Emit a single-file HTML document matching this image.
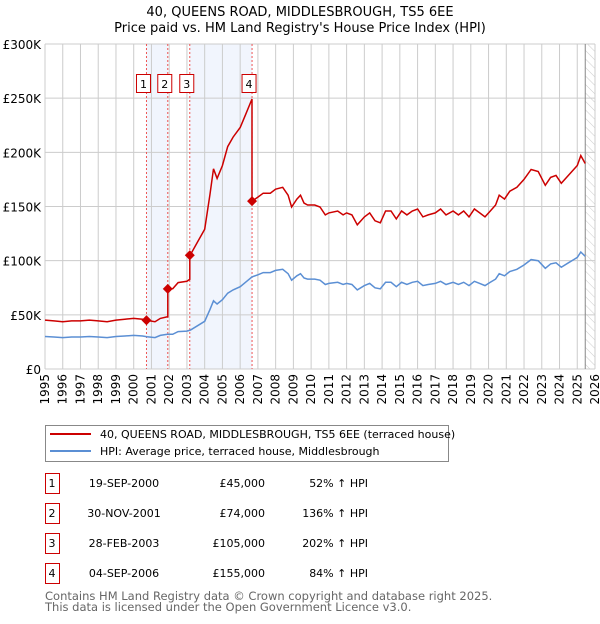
<!DOCTYPE html>
<html><head><meta charset="utf-8"><style>
body{margin:0;background:#fff;font-family:"DejaVu Sans","Liberation Sans",sans-serif;}
svg text{font-family:"DejaVu Sans","Liberation Sans",sans-serif;}
</style></head><body>
<svg id="chart" width="600" height="620" viewBox="0 0 600 620" xmlns="http://www.w3.org/2000/svg">
<defs><pattern id="hatch" width="6" height="6" patternUnits="userSpaceOnUse" patternTransform="rotate(-45)"><line x1="0" y1="0" x2="0" y2="6" stroke="#ccc" stroke-width="1"/></pattern></defs>
<text x="300" y="16" text-anchor="middle" font-size="13">40, QUEENS ROAD, MIDDLESBROUGH, TS5 6EE</text>
<text x="300" y="32" text-anchor="middle" font-size="13">Price paid vs. HM Land Registry's House Price Index (HPI)</text>
<g id="plot"></g>
<g id="legend">
<rect x="45.5" y="425.5" width="403" height="36" fill="#fff" stroke="#888"/>
<line x1="50" y1="434" x2="91" y2="434" stroke="#cc0000" stroke-width="2"/>
<text x="100" y="438" font-size="11">40, QUEENS ROAD, MIDDLESBROUGH, TS5 6EE (terraced house)</text>
<line x1="50" y1="451" x2="91" y2="451" stroke="#5b8fd4" stroke-width="2"/>
<text x="100" y="455" font-size="11">HPI: Average price, terraced house, Middlesbrough</text>
</g>
<g id="table"></g>
<text x="45" y="600" font-size="11.5" fill="#666">Contains HM Land Registry data © Crown copyright and database right 2025.</text>
<text x="45" y="611" font-size="11.5" fill="#666">This data is licensed under the Open Government Licence v3.0.</text>
</svg>
<script>
const hpiYears=[1995,1995.5,1996,1996.5,1997,1997.5,1998,1998.5,1999,1999.5,2000,2000.5,2000.75,2001.2,2001.5,2001.9,2002.2,2002.5,2003,2003.2,2003.6,2004,2004.3,2004.5,2004.7,2005,2005.3,2005.6,2006,2006.3,2006.67,2007,2007.3,2007.7,2008,2008.4,2008.7,2008.9,2009.2,2009.4,2009.6,2009.8,2010.2,2010.5,2010.8,2011,2011.5,2011.8,2012,2012.3,2012.6,2013,2013.3,2013.6,2013.9,2014.2,2014.5,2014.8,2015.1,2015.4,2015.7,2016,2016.3,2016.6,2017,2017.3,2017.6,2018,2018.3,2018.6,2018.9,2019.2,2019.5,2019.8,2020.1,2020.4,2020.6,2020.9,2021.2,2021.6,2022,2022.4,2022.8,2023.2,2023.5,2023.8,2024.1,2024.5,2024.8,2025.0,2025.2,2025.45];
const hpiValues=[30,29.5,29,29.5,29.5,30,29.5,29,30,30.5,31,30.5,29.8,29,31,32,32,34.5,35,36,40,44,55,63,60,64,70,73,76,80,85,87,89,89,91,92,88,82,86,88,84,83,83,82,78,79,80,78,79,78,73,77,79,75,74,80,80,76,80,78,80,81,77,78,79,81,78,80,78,80,77,81,79,77,80,83,88,86,90,92,96,101,100,93,97,98,94,98,101,103,108,104];
const saleLabels=["1","2","3","4"];
const saleDates=[2000.72,2001.92,2003.16,2006.67];
const salePrices=[45000,74000,105000,155000];
const saleDateText=["19-SEP-2000","30-NOV-2001","28-FEB-2003","04-SEP-2006"];
const salePriceText=["£45,000","£74,000","£105,000","£155,000"];
const salePctText=["52% ↑ HPI","136% ↑ HPI","202% ↑ HPI","84% ↑ HPI"];
const yTicks=[0,50000,100000,150000,200000,250000,300000];
const yTickLabels=["£0","£50K","£100K","£150K","£200K","£250K","£300K"];
const xTicks=[1995,1996,1997,1998,1999,2000,2001,2002,2003,2004,2005,2006,2007,2008,2009,2010,2011,2012,2013,2014,2015,2016,2017,2018,2019,2020,2021,2022,2023,2024,2025,2026];

const NS="http://www.w3.org/2000/svg";
const X0=45,X1=595,Y0=369,Y1=44;
const xs=t=>X0+(t-1995)/(2026-1995)*(X1-X0);
const ys=v=>Y0-v/300000*(Y0-Y1);
function mk(tag,attrs,parent){const e=document.createElementNS(NS,tag);for(const k in attrs)e.setAttribute(k,attrs[k]);parent.appendChild(e);return e;}
const plot=document.getElementById('plot');
function hpiAt(t){for(let i=1;i<hpiYears.length;i++){if(t<=hpiYears[i]){const f=(t-hpiYears[i-1])/(hpiYears[i]-hpiYears[i-1]);return hpiValues[i-1]+f*(hpiValues[i]-hpiValues[i-1]);}}return hpiValues[hpiValues.length-1];}

for(const [a,b] of [[0,1],[2,3]]){
const r=mk('rect',{x:xs(saleDates[a]),y:Y1,width:xs(saleDates[b])-xs(saleDates[a]),height:Y0-Y1,fill:'#eef3fc',opacity:0.8},plot);


}
const hx=xs(2025.45);
const hr=mk('rect',{x:hx,y:Y1,width:X1-hx,height:Y0-Y1,fill:'url(#hatch)'},plot);


yTicks.forEach((v,i)=>{
const l=mk('line',{x1:X0,x2:X1,y1:ys(v),y2:ys(v),stroke:'#ccc','stroke-width':1},plot);


const t=mk('text',{x:X0-4,y:ys(v)+5,'text-anchor':'end','font-size':12},plot);t.textContent=yTickLabels[i];


});
xTicks.forEach(v=>{
const l=mk('line',{x1:xs(v),x2:xs(v),y1:Y1,y2:Y0,stroke:'#ccc','stroke-width':1},plot);


const x=xs(v)+4,y=Y0+5;
const t=mk('text',{x:x,y:y,'text-anchor':'end','font-size':12,transform:`rotate(-90 ${x} ${y})`},plot);t.textContent=v;


});
const vl=mk('line',{x1:hx,x2:hx,y1:Y1,y2:Y0,stroke:'#888','stroke-width':1},plot);


saleDates.forEach(d=>{
const l=mk('line',{x1:xs(d),x2:xs(d),y1:Y1,y2:Y0,stroke:'#ee5555','stroke-width':1,'stroke-dasharray':'2,2'},plot);


});
let hp=hpiYears.map((t,i)=>xs(t).toFixed(1)+','+ys(hpiValues[i]*1000).toFixed(1)).join(' ');
const hl=mk('polyline',{points:hp,fill:'none',stroke:'#5b8fd4','stroke-width':1.5},plot);


const factor=saleDates.map((d,i)=>salePrices[i]/(hpiAt(d)*1000));
function factorAt(t){let f=factor[0];for(let i=0;i<saleDates.length;i++)if(t>=saleDates[i])f=factor[i];return f;}
const times=[...hpiYears];saleDates.forEach(d=>{times.push(d-0.001);times.push(d);});times.sort((a,b)=>a-b);
let pp=times.map(t=>xs(t).toFixed(1)+','+ys(hpiAt(t)*1000*factorAt(t)).toFixed(1)).join(' ');
const pl=mk('polyline',{points:pp,fill:'none',stroke:'#cc0000','stroke-width':1.5},plot);


saleDates.forEach((d,i)=>{
const x=xs(d),y=ys(salePrices[i]);
const p=mk('path',{d:`M${x} ${y-5}L${x+5} ${y}L${x} ${y+5}L${x-5} ${y}Z`,fill:'#cc0000'},plot);


const b=mk('rect',{x:x-10,y:74.5,width:14,height:18,fill:'#fff',stroke:'#cc0000'},plot);


const t=mk('text',{x:x-3,y:88,'text-anchor':'middle','font-size':11},plot);t.textContent=saleLabels[i];


});
const tb=document.getElementById('table');
saleLabels.forEach((s,i)=>{
const cy=483+i*30;
const r=mk('rect',{x:45.5,y:cy-9.5,width:14,height:20,fill:'#fff',stroke:'#cc0000'},tb);


const cells=[[52,'middle',s],[124,'middle',saleDateText[i]],[265,'end',salePriceText[i]],[368,'end',salePctText[i]]];
cells.forEach(c=>{const t=mk('text',{x:c[0],y:cy+4,'text-anchor':c[1],'font-size':11},tb);t.textContent=c[2];

});
});
</script>
</body></html>
